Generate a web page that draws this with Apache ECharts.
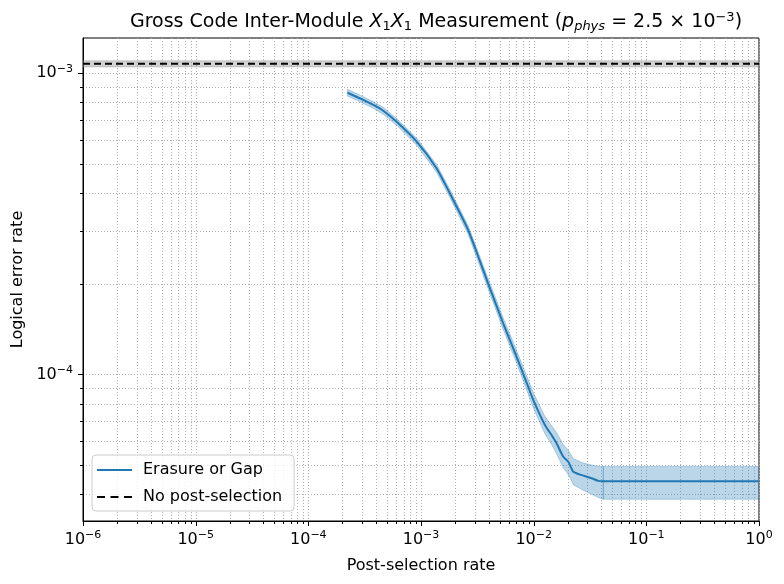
<!DOCTYPE html>
<html>
<head>
<meta charset="utf-8">
<script src="https://cdn.jsdelivr.net/npm/echarts@6/dist/echarts.min.js"></script>
<style>
  html, body { margin: 0; padding: 0; background: #fff; }
  #chart { width: 784px; height: 584px; }
</style>
</head>
<body>
<div id="chart"></div>
<script>
// post-selection rate vs logical error rate
const rate = [2.23e-4, 2.88e-4, 3.78e-4, 4.62e-4, 6.08e-4, 9.16e-4, 1.377e-3, 1.806e-3, 2.63e-3,
  3.95e-3, 5.37e-3, 7.06e-3, 8.95e-3, 9.93e-3, 1.259e-2, 1.445e-2, 1.60e-2, 1.83e-2, 2.03e-2,
  2.25e-2, 2.67e-2, 3.27e-2, 3.75e-2, 4.15e-2]
const errorRate = [8.62e-4, 8.25e-4, 7.85e-4, 7.51e-4, 6.90e-4, 5.93e-4, 4.83e-4, 3.99e-4, 3.01e-4,
  2.00e-4, 1.476e-4, 1.143e-4, 9.09e-5, 8.22e-5, 6.79e-5, 6.28e-5, 5.90e-5, 5.33e-5, 5.13e-5,
  4.75e-5, 4.63e-5, 4.52e-5, 4.43e-5, 4.42e-5]
const errorUpper = [8.85e-4, 8.46e-4, 8.05e-4, 7.71e-4, 7.08e-4, 6.09e-4, 4.97e-4, 4.11e-4, 3.11e-4,
  2.08e-4, 1.54e-4, 1.20e-4, 9.6e-5, 8.7e-5, 7.25e-5, 6.75e-5, 6.4e-5, 5.85e-5, 5.6e-5,
  5.25e-5, 5.1e-5, 5.0e-5, 4.95e-5, 4.95e-5]
const errorLower = [8.40e-4, 8.04e-4, 7.65e-4, 7.31e-4, 6.72e-4, 5.77e-4, 4.69e-4, 3.87e-4, 2.91e-4,
  1.92e-4, 1.41e-4, 1.09e-4, 8.6e-5, 7.75e-5, 6.35e-5, 5.85e-5, 5.45e-5, 4.9e-5, 4.65e-5,
  4.3e-5, 4.15e-5, 4.0e-5, 3.9e-5, 3.85e-5]

// flat tail once everything is kept
const tailRate = [4.15e-2, 1]
const tailError = [4.42e-5, 4.42e-5]
const tailUpper = [4.95e-5, 4.95e-5]
const tailLower = [3.85e-5, 3.85e-5]

// no post-selection baseline
const baseRate = [1e-6, 1]
const baseError = [1.076e-3, 1.076e-3]
const baseUpper = [1.10e-3, 1.10e-3]
const baseLower = [1.05e-3, 1.05e-3]

const xRange = [1e-6, 1]
const yRange = [3.26e-5, 1.31e-3]

const FONT = "DejaVu Sans"
const BLUE = "#1f77b4"

// decade ticks plus 2..9 minor ticks, like a matplotlib log axis
function logTicks(lo, hi) {
  const major = []
  const minor = []
  for (let e = Math.floor(Math.log10(lo)); e <= Math.ceil(Math.log10(hi)); e++) {
    for (let m = 1; m < 10; m++) {
      const v = m * Math.pow(10, e)
      if (v < lo * 0.9999 || v > hi * 1.0001) continue
      ;(m === 1 ? major : minor).push(v)
    }
  }
  return { major, minor }
}
const xTicks = logTicks(xRange[0], xRange[1])
const yTicks = logTicks(yRange[0], yRange[1])

function powerLabel(v) {
  const l = Math.log10(v)
  const e = Math.round(l)
  if (Math.abs(l - e) > 1e-6) return ""
  return "{b|10}{s|" + (e < 0 ? "\u2212" + -e : e) + "}"
}

const labelRich = {
  b: { fontSize: 16, fontFamily: FONT, color: "#000" },
  s: { fontSize: 11, fontFamily: FONT, color: "#000", padding: [0, 0, 9, 0] }
}

function band(xs, lo, hi, fill, stroke) {
  return {
    type: "custom",
    silent: true,
    z: 1,
    clip: true,
    data: [[xs[0], lo[0]]],
    renderItem(params, api) {
      const top = xs.map((x, i) => api.coord([x, hi[i]]))
      const bottom = xs.map((x, i) => api.coord([x, lo[i]])).reverse()
      return {
        type: "polygon",
        shape: { points: top.concat(bottom) },
        style: { fill, stroke, lineWidth: 1 }
      }
    }
  }
}

// dotted grid on both major and minor ticks, ticks pointing outwards
const gridAndTicks = {
  type: "custom",
  silent: true,
  z: 0,
  clip: false,
  data: [[1e-3, 1e-4]],
  renderItem(params, api) {
    const cs = params.coordSys
    const children = []
    const dotted = { stroke: "#b0b0b0", lineWidth: 1, lineDash: [1, 2] }
    const tick = { stroke: "#000", lineWidth: 1 }
    const add = (x1, y1, x2, y2, style) =>
      children.push({ type: "line", shape: { x1, y1, x2, y2 }, style })

    xTicks.major.concat(xTicks.minor).forEach((v) => {
      const x = Math.round(api.coord([v, yRange[0]])[0]) + 0.5
      const len = xTicks.major.includes(v) ? 5 : 3
      add(x, cs.y, x, cs.y + cs.height, dotted)
      add(x, cs.y + cs.height, x, cs.y + cs.height + len, tick)
    })
    yTicks.major.concat(yTicks.minor).forEach((v) => {
      const y = Math.round(api.coord([xRange[0], v])[1]) + 0.5
      const len = yTicks.major.includes(v) ? 5 : 3
      add(cs.x, y, cs.x + cs.width, y, dotted)
      add(cs.x - len, y, cs.x, y, tick)
    })
    return { type: "group", children }
  }
}

const titleRich = {
  n: { fontSize: 19, fontFamily: FONT, fontWeight: "normal", color: "#000" },
  i: { fontSize: 19, fontFamily: FONT, fontWeight: "normal", fontStyle: "italic", color: "#000" },
  sub: { fontSize: 13, fontFamily: FONT, fontWeight: "normal", color: "#000", padding: [8, 0, 0, 0] },
  isub: { fontSize: 13, fontFamily: FONT, fontWeight: "normal", fontStyle: "italic", color: "#000", padding: [8, 0, 0, 0] },
  sup: { fontSize: 13, fontFamily: FONT, fontWeight: "normal", color: "#000", padding: [0, 0, 10, 0] }
}

const chart = echarts.init(document.getElementById("chart"), null, { renderer: "canvas" })
chart.setOption({
  animation: false,
  textStyle: { fontFamily: FONT },
  title: {
    left: 431,
    top: 6,
    textAlign: "center",
    text: "{n|Gross Code Inter-Module }{i|X}{sub|1}{i|X}{sub|1}{n| Measurement (}{i|p}{isub|phys}{n| = 2.5 \u00d7 10}{sup|\u22123}{n|)}",
    textStyle: { fontWeight: "normal", rich: titleRich }
  },
  grid: {
    left: 83, right: 25, top: 38, bottom: 63,
    show: true, borderColor: "#000", borderWidth: 1, backgroundColor: "transparent"
  },
  legend: {
    orient: "vertical",
    left: 92,
    top: 455,
    padding: [7, 12, 6, 5],
    itemGap: 11,
    itemWidth: 35,
    itemHeight: 2,
    backgroundColor: "rgba(255,255,255,0.8)",
    borderColor: "#cccccc",
    borderWidth: 1,
    borderRadius: 4,
    textStyle: { fontSize: 16, fontFamily: FONT, color: "#000", padding: [0, 0, 0, 6] },
    data: [
      { name: "Erasure or Gap", icon: "rect", itemStyle: { color: BLUE } },
      { name: "No post-selection", icon: "path://M0,0h8v2h-8zM13.5,0h8v2h-8zM27,0h8v2h-8z", itemStyle: { color: "#000" } }
    ]
  },
  xAxis: {
    type: "log",
    logBase: 10,
    min: xRange[0],
    max: xRange[1],
    name: "Post-selection rate",
    nameLocation: "middle",
    nameGap: 37,
    nameTextStyle: { fontSize: 16, fontFamily: FONT, color: "#000" },
    axisLine: { show: true, lineStyle: { color: "#000", width: 1 } },
    axisTick: { show: false },
    splitLine: { show: false },
    axisLabel: { margin: 9, formatter: powerLabel, rich: labelRich, showMinLabel: true, showMaxLabel: true }
  },
  yAxis: {
    type: "log",
    logBase: 10,
    min: yRange[0],
    max: yRange[1],
    name: "Logical error rate",
    nameLocation: "middle",
    nameGap: 57,
    nameTextStyle: { fontSize: 16, fontFamily: FONT, color: "#000" },
    axisLine: { show: true, lineStyle: { color: "#000", width: 1 } },
    axisTick: { show: false },
    splitLine: { show: false },
    axisLabel: { margin: 10, formatter: powerLabel, rich: labelRich }
  },
  series: [
    gridAndTicks,
    band(baseRate, baseLower, baseUpper, "rgba(128,128,128,0.35)", "rgba(128,128,128,0.35)"),
    band(rate, errorLower, errorUpper, "rgba(31,119,180,0.3)", "rgba(31,119,180,0.3)"),
    band(tailRate, tailLower, tailUpper, "rgba(31,119,180,0.3)", "rgba(31,119,180,0.3)"),
    {
      name: "Erasure or Gap",
      type: "line",
      z: 3,
      symbol: "none",
      silent: true,
      smooth: 0.2,
      lineStyle: { color: BLUE, width: 2 },
      itemStyle: { color: BLUE },
      data: rate.concat(tailRate.slice(1)).map((x, i) => [x, errorRate.concat(tailError.slice(1))[i]])
    },
    {
      name: "No post-selection",
      type: "line",
      z: 3,
      symbol: "none",
      silent: true,
      lineStyle: { color: "#000", width: 2, type: [7, 4] },
      itemStyle: { color: "#000" },
      data: baseRate.map((x, i) => [x, baseError[i]])
    }
  ]
})
</script>
</body>
</html>
